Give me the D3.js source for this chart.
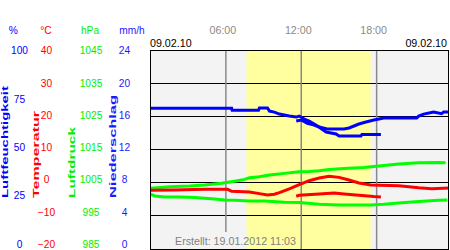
<!DOCTYPE html>
<html>
<head>
<meta charset="utf-8">
<script src="https://cdn.jsdelivr.net/npm/d3@7"></script>
<style>
  body { margin: 0; background: #fff; }
  svg { display: block; font-family: "Liberation Sans", Arial, sans-serif; }
</style>
</head>
<body>
<div id="chart"></div>
<script>
// --- data ---
const dateLabel = '09.02.10';
const createdLabel = 'Erstellt: 19.01.2012 11:03';
const hourTicks = [6, 12, 18];
const hourLabels = ['06:00', '12:00', '18:00'];
const daylight = [7.64, 17.53]; // sunrise / sunset in hours

const pctTicks = [100, 75, 50, 25, 0];
const tempTicks = [40, 30, 20, 10, 0, -10, -20];
const presTicks = [1045, 1035, 1025, 1015, 1005, 995, 985];
const rainTicks = [24, 20, 16, 12, 8, 4, 0];

// [hour, value]
const humidityA = [[0, 70.7], [6.46, 70.7], [6.5, 69.7], [8.6, 69.7], [8.67, 70.9], [9.31, 70.9],
  [9.47, 69.3], [9.86, 68.8], [10.26, 67.8], [11.05, 66.8], [11.6, 66.3], [11.84, 66.8],
  [12.24, 65.3], [12.63, 64.3], [13.03, 62.8], [13.43, 61.3], [14.06, 60.3], [15.41, 60.3],
  [15.8, 60.8], [16.2, 61.8], [16.59, 62.8], [17.15, 63.8], [17.78, 64.8], [18.57, 65.8],
  [21.19, 65.8], [21.35, 66.8], [21.74, 67.8], [22.54, 68.8], [23.17, 68.0], [23.33, 68.8], [24, 68.8]];
const humidityB = [[11.6, 64.3], [12.0, 64.8], [12.48, 63.2], [13.03, 62.3], [13.43, 61.2],
  [13.98, 58.8], [14.77, 57.8], [15.01, 56.8], [16.75, 56.8], [16.83, 57.6], [18.34, 57.6]];

const tempA = [[0, -2.3], [1.94, -2.2], [4.32, -2.0], [6.14, -2.0], [6.46, -2.6], [7.88, -2.8],
  [8.67, -3.3], [9.31, -3.7], [9.86, -3.5], [10.26, -3.0], [11.05, -1.9], [11.84, -0.6],
  [12.63, 0.6], [13.43, 1.4], [14.22, 1.9], [15.01, 1.6], [15.8, 0.8], [16.59, -0.1],
  [17.54, -0.7], [19.76, -0.9], [21.35, -1.5], [22.38, -1.8], [24, -1.6]];
const tempB = [[11.6, -4.1], [11.84, -3.8], [13.43, -3.4], [14.61, -3.1], [15.41, -3.4],
  [16.59, -3.8], [17.78, -4.2], [18.34, -4.3]];

const pressureA = [[0, 1003.3], [1.54, 1003.8], [3.13, 1004.0], [4.32, 1004.3], [5.11, 1004.6],
  [5.66, 1004.8], [6.3, 1005.2], [6.93, 1005.6], [7.49, 1006.0], [7.88, 1006.5], [8.67, 1006.8],
  [9.47, 1007.3], [10.65, 1007.8], [11.84, 1008.3], [12.63, 1008.4], [13.43, 1008.6],
  [14.22, 1009.0], [15.41, 1009.3], [16.99, 1009.6], [17.78, 1009.9], [18.57, 1010.2],
  [19.76, 1010.6], [21.35, 1011.0], [22.93, 1011.1], [23.49, 1011.0]];
const pressureB = [[0, 1001.5], [0.35, 1001.0], [1.15, 1000.7], [2.34, 1000.7], [3.52, 1000.5],
  [4.32, 1000.3], [5.11, 1000.1], [5.9, 999.8], [6.69, 999.7], [7.88, 999.5], [9.07, 999.5],
  [10.65, 999.1], [11.84, 999.0], [13.43, 998.5], [15.01, 998.3], [17.54, 998.3],
  [18.57, 998.5], [19.76, 998.9], [21.35, 999.3], [22.93, 999.7], [23.64, 999.8]];

// --- layout ---
const width = 450, height = 250;
const plot = {left: 150, right: 449, top: 50, bottom: 249};

const svg = d3.select('#chart').append('svg')
    .attr('width', width)
    .attr('height', height);

const x = d3.scaleLinear().domain([0, 24]).range([150.5, 452]);
const yPct = d3.scaleLinear().domain([0, 100]).range([plot.bottom, plot.top]);
const yTemp = d3.scaleLinear().domain([-20, 40]).range([plot.bottom, plot.top]);
const yPres = d3.scaleLinear().domain([985, 1045]).range([plot.bottom, plot.top]);
const yRain = d3.scaleLinear().domain([0, 24]).range([plot.bottom, plot.top]);

// background + daylight band
svg.append('rect')
    .attr('x', plot.left).attr('y', plot.top)
    .attr('width', plot.right - plot.left).attr('height', plot.bottom - plot.top)
    .attr('fill', '#f3f3f3');
svg.append('rect')
    .attr('x', x(daylight[0])).attr('y', plot.top)
    .attr('width', x(daylight[1]) - x(daylight[0])).attr('height', plot.bottom - plot.top)
    .attr('fill', '#ffffa0');

// horizontal grid
svg.append('g')
    .selectAll('line')
    .data(tempTicks)
    .enter()
    .append('line')
    .attr('x1', plot.left).attr('x2', plot.right)
    .attr('y1', d => yTemp(d)).attr('y2', d => yTemp(d))
    .attr('stroke', '#000')
    .attr('shape-rendering', 'crispEdges');

// hour lines
svg.append('g')
    .selectAll('line')
    .data(hourTicks)
    .enter()
    .append('line')
    .attr('x1', d => x(d)).attr('x2', d => x(d))
    .attr('y1', plot.top).attr('y2', plot.bottom)
    .attr('stroke', '#888')
    .attr('stroke-width', 1.5);

svg.append('g')
    .selectAll('text')
    .data(hourTicks)
    .enter()
    .append('text')
    .attr('x', d => x(d) - 3)
    .attr('y', 34)
    .attr('text-anchor', 'middle')
    .style('font-size', '10.7px')
    .attr('fill', '#8a8a8a')
    .text((d, i) => hourLabels[i]);

// created stamp (its box hides the hour line underneath)
const stampBox = svg.append('rect').attr('fill', '#f3f3f3');
const created = svg.append('text')
    .attr('x', 175)
    .attr('y', 245)
    .style('font-size', '10.7px')
    .attr('fill', '#808080')
    .text(createdLabel);
const bb = created.node().getBBox();
stampBox
    .attr('x', bb.x - 3).attr('y', bb.y - 3)
    .attr('width', x(daylight[0]) - bb.x + 3).attr('height', plot.bottom - bb.y + 3);

// data lines
svg.append('clipPath').attr('id', 'clip')
    .append('rect')
    .attr('x', plot.left).attr('y', plot.top)
    .attr('width', plot.right - plot.left).attr('height', plot.bottom - plot.top);

const lines = svg.append('g').attr('clip-path', 'url(#clip)');
const series = [
  {data: pressureA, y: yPres, color: '#00ff00'},
  {data: pressureB, y: yPres, color: '#00ff00'},
  {data: tempA, y: yTemp, color: '#ff0000'},
  {data: tempB, y: yTemp, color: '#ff0000'},
  {data: humidityA, y: yPct, color: '#0000ff'},
  {data: humidityB, y: yPct, color: '#0000ff'},
];
lines.selectAll('path')
    .data(series)
    .enter()
    .append('path')
    .attr('fill', 'none')
    .attr('stroke', d => d.color)
    .attr('stroke-width', 3)
    .attr('d', s => d3.line()
        .x(d => x(d[0]))
        .y(d => s.y(d[1]))
        (s.data));

// frame
svg.append('rect')
    .attr('x', plot.left + 0.5).attr('y', plot.top + 0.5)
    .attr('width', plot.right - plot.left - 1).attr('height', plot.bottom - plot.top)
    .attr('fill', 'none')
    .attr('stroke', '#000');

// dates
svg.append('text').attr('x', 150).attr('y', 46.5)
    .style('font-size', '10.7px').attr('fill', '#000').text(dateLabel);
svg.append('text').attr('x', 447).attr('y', 46.5).attr('text-anchor', 'end')
    .style('font-size', '10.7px').attr('fill', '#000').text(dateLabel);

// left axes (labels sit on a slightly shorter span than the grid)
const axes = [
  {scale: yPct, ticks: pctTicks, cx: 19.5, unit: '%', ux: 13.3, color: '#0000ff',
    title: 'Luftfeuchtigkeit', tx: 7.5, len: 112},
  {scale: yTemp, ticks: tempTicks, cx: 46.5, unit: '°C', ux: 46, color: '#ff0000',
    title: 'Temperatur', tx: 38.5, len: 87},
  {scale: yPres, ticks: presTicks, cx: 91, unit: 'hPa', ux: 90, color: '#00ee00',
    title: 'Luftdruck', tx: 75, len: 71},
  {scale: yRain, ticks: rainTicks, cx: 124.5, unit: 'mm/h', ux: 132, color: '#1a1aff',
    title: 'Niederschlag', tx: 116, len: 103},
];

axes.forEach(a => {
  const labelScale = a.scale.copy().range([244, 50.5]);
  const g = svg.append('g')
      .attr('transform', `translate(${a.cx},0)`)
      .call(d3.axisLeft(labelScale).tickValues(a.ticks).tickFormat(d3.format('d'))
          .tickSize(0).tickPadding(0));
  g.select('.domain').remove();
  g.selectAll('text')
      .attr('x', 0)
      .attr('text-anchor', 'middle')
      .attr('fill', a.color)
      .style('font-size', '10.2px')
      .style('font-family', '"Liberation Sans", Arial, sans-serif');

  svg.append('text')
      .attr('x', a.ux).attr('y', 34)
      .attr('text-anchor', 'middle')
      .style('font-size', '10.2px')
      .attr('fill', a.color)
      .text(a.unit);

  svg.append('text')
      .attr('transform', `translate(${a.tx},198) rotate(-90)`)
      .attr('textLength', a.len)
      .attr('lengthAdjust', 'spacingAndGlyphs')
      .style('font-size', '9.5px')
      .style('font-weight', 'bold')
      .attr('fill', a.color)
      .text(a.title);
});
</script>
</body>
</html>
